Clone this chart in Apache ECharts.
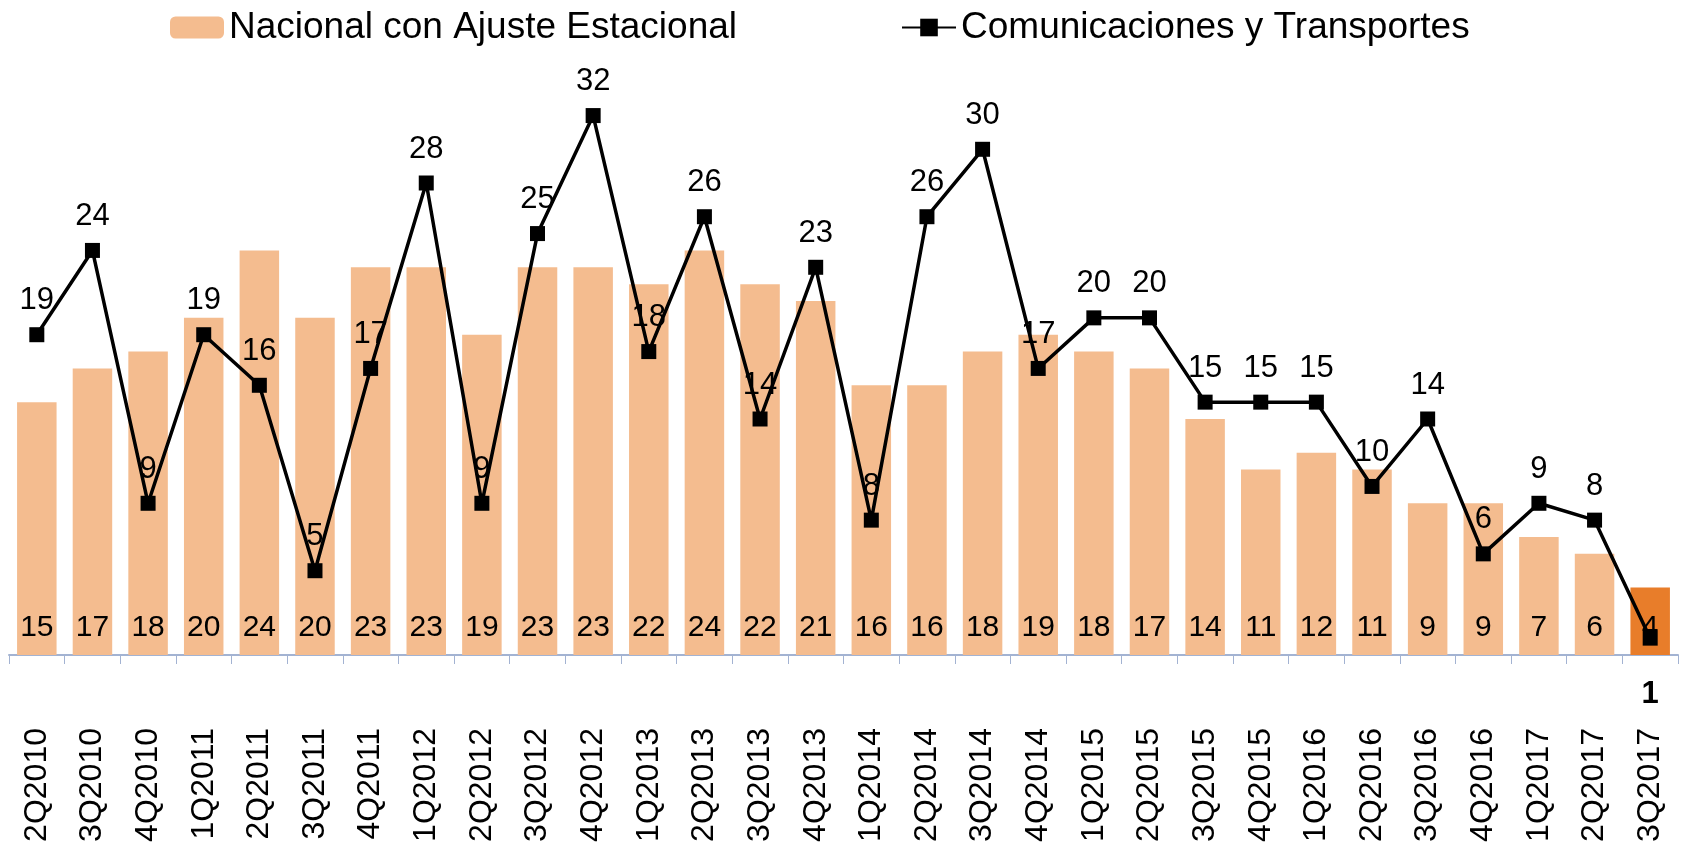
<!DOCTYPE html>
<html>
<head>
<meta charset="utf-8">
<script src="https://cdn.jsdelivr.net/npm/echarts@6/dist/echarts.min.js"></script>
<style>
  html, body { margin: 0; padding: 0; background: #ffffff; }
  #chart { width: 1683px; height: 843px; }
</style>
</head>
<body>
<div id="chart"></div>
<script>
const categories = [
  '2Q2010','3Q2010','4Q2010',
  '1Q2011','2Q2011','3Q2011','4Q2011',
  '1Q2012','2Q2012','3Q2012','4Q2012',
  '1Q2013','2Q2013','3Q2013','4Q2013',
  '1Q2014','2Q2014','3Q2014','4Q2014',
  '1Q2015','2Q2015','3Q2015','4Q2015',
  '1Q2016','2Q2016','3Q2016','4Q2016',
  '1Q2017','2Q2017','3Q2017'
];
const nacionalValues = [15,17,18,20,24,20,23,23,19,23,23,22,24,22,21,16,16,18,19,18,17,14,11,12,11,9,9,7,6,4];
const comunicacionesValues = [19,24,9,19,16,5,17,28,9,25,32,18,26,14,23,8,26,30,17,20,20,15,15,15,10,14,6,9,8,1];
const seriesNames = ['Nacional con Ajuste Estacional', 'Comunicaciones y Transportes'];

const FONT = '"Liberation Sans", Arial, sans-serif';
const lastIdx = categories.length - 1;

const barData = nacionalValues.map((v, i) => i === lastIdx
  ? { value: v, itemStyle: { color: '#E87D2A' } }
  : v);

const lineData = comunicacionesValues.map((v, i) => i === lastIdx
  ? { value: v, label: { position: 'bottom', distance: 33, fontWeight: 'bold' } }
  : v);

const chart = echarts.init(document.getElementById('chart'), null, { renderer: 'canvas' });
chart.setOption({
  animation: false,
  backgroundColor: '#ffffff',
  textStyle: { fontFamily: FONT },
  legend: {
    data: seriesNames,
    left: 165,
    top: 4,
    itemWidth: 54,
    itemHeight: 22,
    itemGap: 164,
    textStyle: { fontFamily: FONT, fontSize: 37, color: '#000000' }
  },
  grid: { left: 9, right: 5, top: 65, bottom: 188, containLabel: false, outerBoundsMode: 'none' },
  xAxis: {
    type: 'category',
    data: categories,
    boundaryGap: true,
    axisLine: { show: true, lineStyle: { color: '#A3B3D2', width: 2 } },
    axisTick: { show: true, length: 9, alignWithLabel: false, lineStyle: { color: '#A3B3D2', width: 1 } },
    axisLabel: {
      rotate: 90,
      interval: 0,
      margin: 73,
      fontFamily: FONT,
      fontSize: 32,
      color: '#000000'
    },
    splitLine: { show: false }
  },
  yAxis: {
    type: 'value',
    min: 0,
    max: 35,
    show: false,
    splitLine: { show: false }
  },
  series: [
    {
      name: seriesNames[0],
      type: 'bar',
      data: barData,
      barCategoryGap: '29%',
      itemStyle: { color: '#F4BC8F' },
      label: {
        show: true,
        position: 'insideBottom',
        distance: 12,
        fontFamily: FONT,
        fontSize: 30,
        color: '#000000'
      },
      z: 2
    },
    {
      name: seriesNames[1],
      type: 'line',
      data: lineData,
      symbol: 'rect',
      symbolSize: 15,
      lineStyle: { color: '#000000', width: 3.5 },
      itemStyle: { color: '#000000' },
      label: {
        show: true,
        position: 'top',
        distance: 11,
        fontFamily: FONT,
        fontSize: 31,
        color: '#000000'
      },
      z: 3
    }
  ]
});
</script>
</body>
</html>
